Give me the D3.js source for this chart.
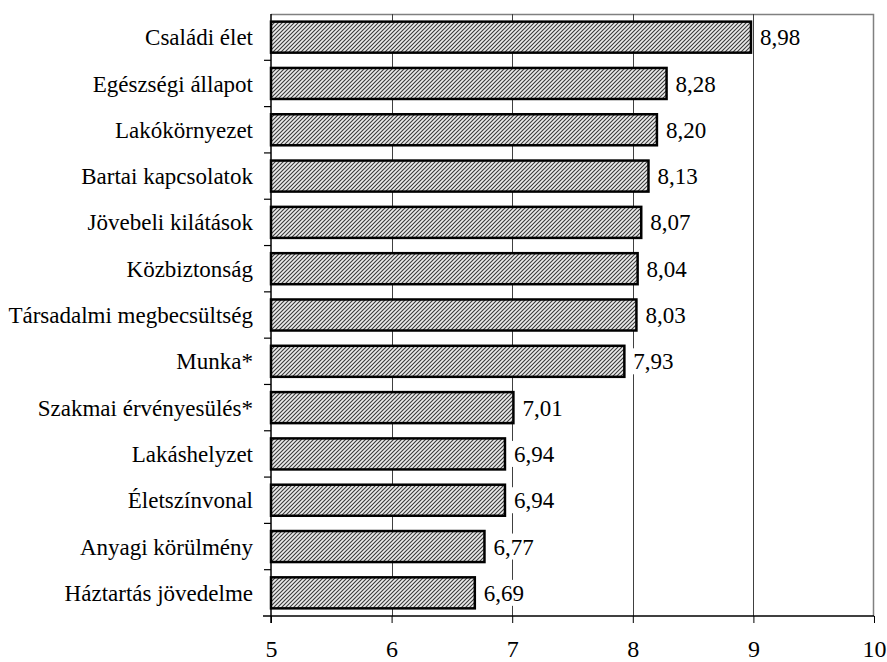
<!DOCTYPE html>
<html>
<head>
<meta charset="utf-8">
<script src="https://cdn.jsdelivr.net/npm/d3@7"></script>
<style>
  body { margin: 0; background: #fff; }
</style>
</head>
<body>
<svg id="chart"></svg>
<script>
var categories = ["Családi élet", "Egészségi állapot", "Lakókörnyezet", "Bartai kapcsolatok",
  "Jövebeli kilátások", "Közbiztonság", "Társadalmi megbecsültség", "Munka*",
  "Szakmai érvényesülés*", "Lakáshelyzet", "Életszínvonal", "Anyagi körülmény",
  "Háztartás jövedelme"];
var values = [8.98, 8.28, 8.20, 8.13, 8.07, 8.04, 8.03, 7.93, 7.01, 6.94, 6.94, 6.77, 6.69];
var xTicks = [5, 6, 7, 8, 9, 10];

var FONT = "'Liberation Serif', 'Times New Roman', serif";
var width = 887, height = 662;
var margin = {top: 14, right: 13, bottom: 46, left: 271};
var plotW = width - margin.left - margin.right,
    plotH = height - margin.top - margin.bottom;

var svg = d3.select("#chart").attr("width", width).attr("height", height)
    .style("font-family", FONT);

// hatch pattern for the bars
var defs = svg.append("defs");
var pat = defs.append("pattern")
    .attr("id", "hatch")
    .attr("patternUnits", "userSpaceOnUse")
    .attr("width", 4).attr("height", 4);
pat.append("rect").attr("width", 4).attr("height", 4).attr("fill", "#ececec");
pat.append("path")
    .attr("d", "M-1,1 l2,-2 M0,4 l4,-4 M3,5 l2,-2")
    .attr("stroke", "#3a3a3a").attr("stroke-width", 1.1);

var x = d3.scaleLinear().domain([5, 10]).range([0, plotW]);
var y = d3.scaleBand().domain(categories).range([0, plotH]).paddingInner(0.33).paddingOuter(0.165);

var plot = svg.append("g").attr("transform", "translate(" + margin.left + "," + margin.top + ")");

// plot area border (top, right)
plot.append("path")
    .attr("d", "M0,0.5H" + (plotW - 0.5) + "V" + plotH)
    .attr("fill", "none").attr("stroke", "#808080").attr("stroke-width", 1.5);

// grid lines
plot.selectAll(".grid").data(xTicks.slice(1, -1))
  .enter().append("line")
    .attr("x1", function(d){ return Math.round(x(d)) + 0.5; })
    .attr("x2", function(d){ return Math.round(x(d)) + 0.5; })
    .attr("y1", 0).attr("y2", plotH)
    .attr("stroke", "#404040").attr("stroke-width", 1);

// bars
plot.selectAll(".bar").data(values)
  .enter().append("rect")
    .attr("x", x(5))
    .attr("y", function(d, i){ return y(categories[i]); })
    .attr("width", function(d){ return x(d) - x(5); })
    .attr("height", y.bandwidth())
    .attr("fill", "url(#hatch)")
    .attr("stroke", "#000").attr("stroke-width", 2.5);

// value labels with white background
var lab = plot.selectAll(".val").data(values)
  .enter().append("g")
    .attr("transform", function(d, i){
      return "translate(" + (x(d) + 6) + "," + (y(categories[i]) + y.bandwidth() / 2) + ")";
    });
lab.append("rect").attr("x", 1).attr("y", -13).attr("width", 46).attr("height", 26).attr("fill", "#fff");
lab.append("text")
    .attr("x", 3).attr("dy", "0.35em")
    .style("font-family", FONT).style("font-size", "23px")
    .text(function(d){ return d.toFixed(2).replace(".", ","); });

// x axis
var xAxis = d3.axisBottom(x).tickValues(xTicks).tickSize(7).tickPadding(17).tickFormat(d3.format("d"));
var gx = plot.append("g").attr("transform", "translate(0," + plotH + ")").call(xAxis);
gx.attr("font-family", null).attr("font-size", null);
gx.select(".domain").attr("stroke", "#000").attr("stroke-width", 1.5).attr("d", "M-8,0H" + plotW);
gx.selectAll(".tick line").attr("stroke", "#000");
gx.selectAll(".tick text").style("font-family", FONT).style("font-size", "24px");

// y axis
var gy = plot.append("g");
gy.append("line").attr("x1", 0).attr("x2", 0).attr("y1", 0).attr("y2", plotH + 7)
    .attr("stroke", "#000").attr("stroke-width", 1.5);
var step = plotH / categories.length;
gy.selectAll(".ytick").data(d3.range(1, categories.length))
  .enter().append("line")
    .attr("x1", -7).attr("x2", 0)
    .attr("y1", function(d){ return d * step; })
    .attr("y2", function(d){ return d * step; })
    .attr("stroke", "#000").attr("stroke-width", 1.2);
gy.selectAll(".ylab").data(categories)
  .enter().append("text")
    .attr("x", -18)
    .attr("y", function(d){ return y(d) + y.bandwidth() / 2; })
    .attr("dy", "0.35em")
    .attr("text-anchor", "end")
    .style("font-family", FONT).style("font-size", "23px")
    .text(function(d){ return d; });
</script>
</body>
</html>
